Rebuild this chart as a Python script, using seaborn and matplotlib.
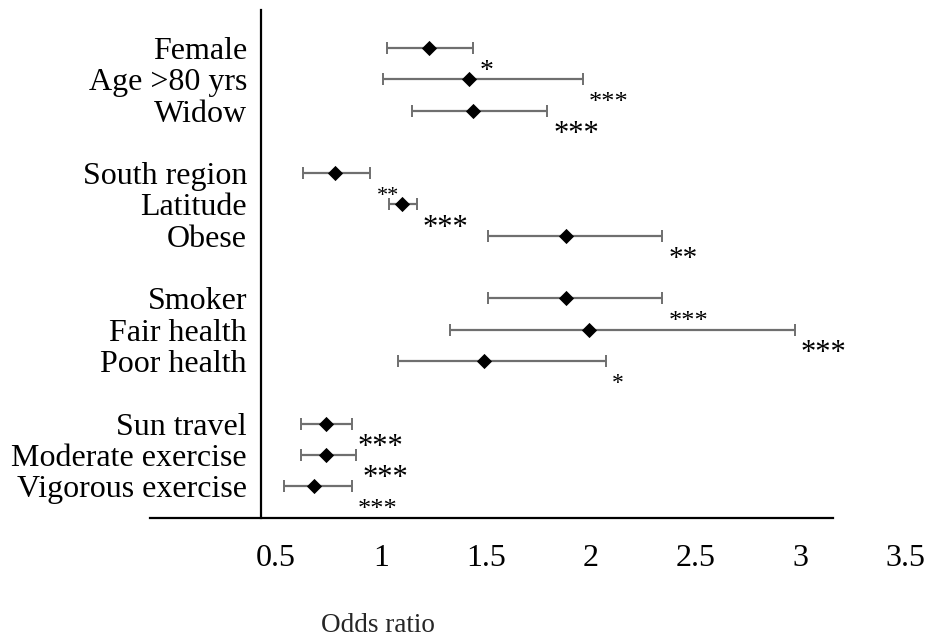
"""
Forest plot: odds ratios with confidence intervals and significance stars
"""

import matplotlib

matplotlib.use("Agg")
import matplotlib.pyplot as plt
import pandas as pd
import seaborn as sns

GROUPS = [
    ["Female", "Age >80 yrs", "Widow"],
    ["South region", "Latitude", "Obese"],
    ["Smoker", "Fair health", "Poor health"],
    ["Sun travel", "Moderate exercise", "Vigorous exercise"],
]
ODDS = [1.23, 1.42, 1.44, 0.78, 1.10, 1.88, 1.88, 1.99, 1.49, 0.74, 0.74, 0.68]
LOWER = [1.03, 1.01, 1.15, 0.63, 1.04, 1.51, 1.51, 1.33, 1.08, 0.62, 0.62, 0.54]
UPPER = [1.44, 1.96, 1.79, 0.95, 1.17, 2.34, 2.34, 2.97, 2.07, 0.86, 0.88, 0.86]
STARS = ["*", "***", "***", "**", "***", "**", "***", "***", "*", "***", "***", "***"]
X_TICKS = [0.5, 1, 1.5, 2, 2.5, 3, 3.5]

# styling
STAR_SIZES = [20, 19, 22, 16, 22, 21, 19, 22, 17, 22, 22, 19]
FONT = ["Liberation Serif", "DejaVu Serif"]
BAR_COLOR = "#6f6f6f"
X_LIM = (-0.1, 3.629)
AXIS_END = 3.152
Y_LIM = (15.016, -1.214)
AXIS_CROSS = 0.4286


def build_frame() -> pd.DataFrame:
    labels, pos = [], []
    row = 0
    for group in GROUPS:
        for name in group:
            labels.append(name)
            pos.append(row)
            row += 1
        row += 1
    return pd.DataFrame(
        {
            "label": labels,
            "pos": pos,
            "odds": ODDS,
            "lower": LOWER,
            "upper": UPPER,
            "stars": STARS,
            "size": STAR_SIZES,
        }
    )


def main() -> None:
    sns.set_theme(style="white")
    plt.rcParams["font.family"] = FONT

    df = build_frame()

    fig = plt.figure(figsize=(9.33, 6.42), dpi=100)
    ax = fig.add_axes([150 / 933, 1 - 518 / 642, 783 / 933, 508 / 642])

    ax.errorbar(
        df["odds"],
        df["pos"],
        xerr=[df["odds"] - df["lower"], df["upper"] - df["odds"]],
        fmt="none",
        ecolor=BAR_COLOR,
        elinewidth=1.6,
        capsize=4.5,
        capthick=1.4,
        zorder=2,
    )
    sns.scatterplot(
        data=df,
        x="odds",
        y="pos",
        marker="D",
        s=60,
        color="black",
        linewidth=0,
        ax=ax,
        zorder=3,
        legend=False,
    )

    for _, r in df.iterrows():
        ax.annotate(
            r["stars"],
            xy=(r["upper"], r["pos"]),
            xytext=(4.5, -12.2 - 0.47 * r["size"]),
            textcoords="offset points",
            ha="left",
            va="baseline",
            fontsize=r["size"],
            color="black",
        )

    ax.set_xticks(X_TICKS, labels=[f"{t:g}" for t in X_TICKS])
    ax.set_xticks([AXIS_CROSS], minor=True)
    ax.set_yticks(df["pos"], labels=df["label"])
    ax.set_xlim(*X_LIM)
    ax.set_ylim(*Y_LIM)
    ax.set(xlabel=None, ylabel=None)

    sns.despine(ax=ax, top=True, right=True)
    ax.spines["left"].set_position(("data", AXIS_CROSS))
    ax.spines["bottom"].set_bounds(X_LIM[0], AXIS_END)
    for side in ("left", "bottom"):
        ax.spines[side].set_color("black")
        ax.spines[side].set_linewidth(1.6)

    ax.tick_params(axis="x", which="major", length=0, pad=19, labelsize=23, colors="black")
    ax.tick_params(axis="x", which="minor", length=8, width=1.4, direction="out", color="black")
    ax.tick_params(axis="y", length=0, pad=10, labelsize=23, colors="black")
    ax.grid(False)

    fig.text(378 / 933, 1 - 625 / 642, "Odds ratio", ha="center", va="center", fontsize=19.5)

    fig.savefig("out.png", dpi=100)


if __name__ == "__main__":
    main()
